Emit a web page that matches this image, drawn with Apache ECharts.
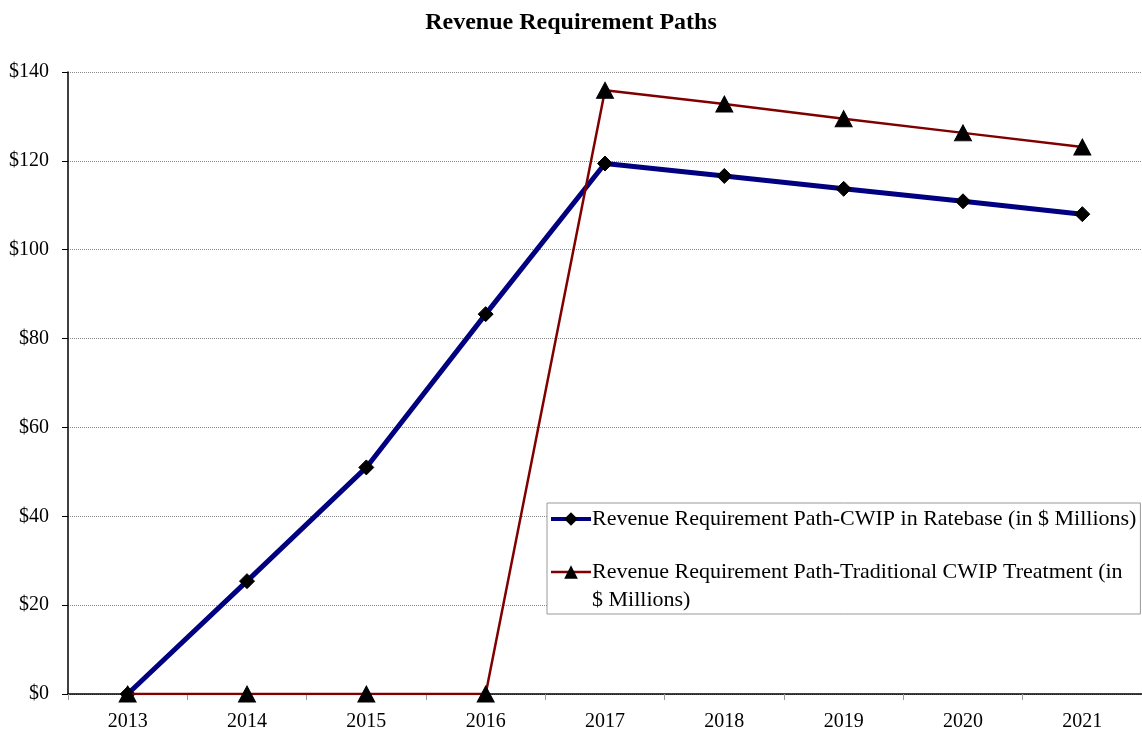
<!DOCTYPE html>
<html><head><meta charset="utf-8">
<script src="https://cdn.jsdelivr.net/npm/echarts@6/dist/echarts.min.js"></script>
<style>html,body{margin:0;padding:0;background:#fff}#c{width:1142px;height:732px}</style>
</head><body><div id="c"></div>
<script>
var years = ['2013','2014','2015','2016','2017','2018','2019','2020','2021'];
var cwipRatebase = [0, 25.4, 51.0, 85.5, 119.4, 116.6, 113.7, 110.9, 108.0];
var traditional = [0, 0, 0, 0, 135.9, 132.8, 129.5, 126.3, 123.1];
var seriesNames = ['Revenue Requirement Path-CWIP in Ratebase (in $ Millions)',
                   'Revenue Requirement Path-Traditional CWIP Treatment (in $ Millions)'];
var FONT = '"Liberation Serif","DejaVu Serif",serif';
var chart = echarts.init(document.getElementById('c'));
chart.setOption({
  animation: false,
  backgroundColor: '#fff',
  textStyle: {fontFamily: FONT},
  title: {text: 'Revenue Requirement Paths', left: 'center', top: 6,
    textStyle: {fontFamily: FONT, fontWeight: 'bold', fontSize: 24, color: '#000'}},
  grid: {left: 68, top: 72, width: 1078, bottom: 38, containLabel: false},
  legend: {
    orient: 'vertical', left: 547, top: 503, width: 600,
    backgroundColor: '#fff', borderColor: '#999', borderWidth: 1,
    padding: [2, 4, 0, 2], itemGap: -3, itemWidth: 40, itemHeight: 17,
    textStyle: {fontFamily: FONT, fontSize: 22, color: '#000', lineHeight: 28, padding: [0,0,0,-4]},
    formatter: function (n) {
      return n === seriesNames[1] ? ' \nRevenue Requirement Path-Traditional CWIP Treatment (in\n$ Millions)' : n;
    },
    data: [
      {name: seriesNames[0], lineStyle: {color: '#000080', width: 4}, itemStyle: {color: '#000'}},
      {name: seriesNames[1], lineStyle: {color: '#800000', width: 2.5}, itemStyle: {color: '#000'}}
    ]
  },
  xAxis: {
    type: 'category', data: years, boundaryGap: true,
    axisLine: {lineStyle: {color: '#000', width: 1.5}},
    axisTick: {show: true, length: 6, lineStyle: {color: '#999'}},
    axisLabel: {fontFamily: FONT, fontSize: 20, color: '#000', margin: 18},
    splitLine: {show: false}
  },
  yAxis: {
    type: 'value', min: 0, max: 140, interval: 20,
    axisLine: {show: true, lineStyle: {color: '#000', width: 1.5}},
    axisTick: {show: true, length: 6, lineStyle: {color: '#000'}},
    axisLabel: {fontFamily: FONT, fontSize: 20, color: '#000', margin: 19,
      formatter: function (v) { return '$' + v; }},
    splitLine: {show: true, lineStyle: {color: '#888', type: 'dotted', width: 1}}
  },
  series: [
    {name: seriesNames[0], type: 'line', data: cwipRatebase, z: 3,
     lineStyle: {color: '#000080', width: 5},
     itemStyle: {color: '#000', borderColor: '#000'},
     symbol: 'diamond', symbolSize: 15, showAllSymbol: true,
     color: '#000080'},
    {name: seriesNames[1], type: 'line', data: traditional, z: 4,
     lineStyle: {color: '#800000', width: 2.5},
     itemStyle: {color: '#000', borderColor: '#000'},
     symbol: 'triangle', symbolSize: [17, 16], showAllSymbol: true,
     color: '#800000'}
  ]
});
</script></body></html>
